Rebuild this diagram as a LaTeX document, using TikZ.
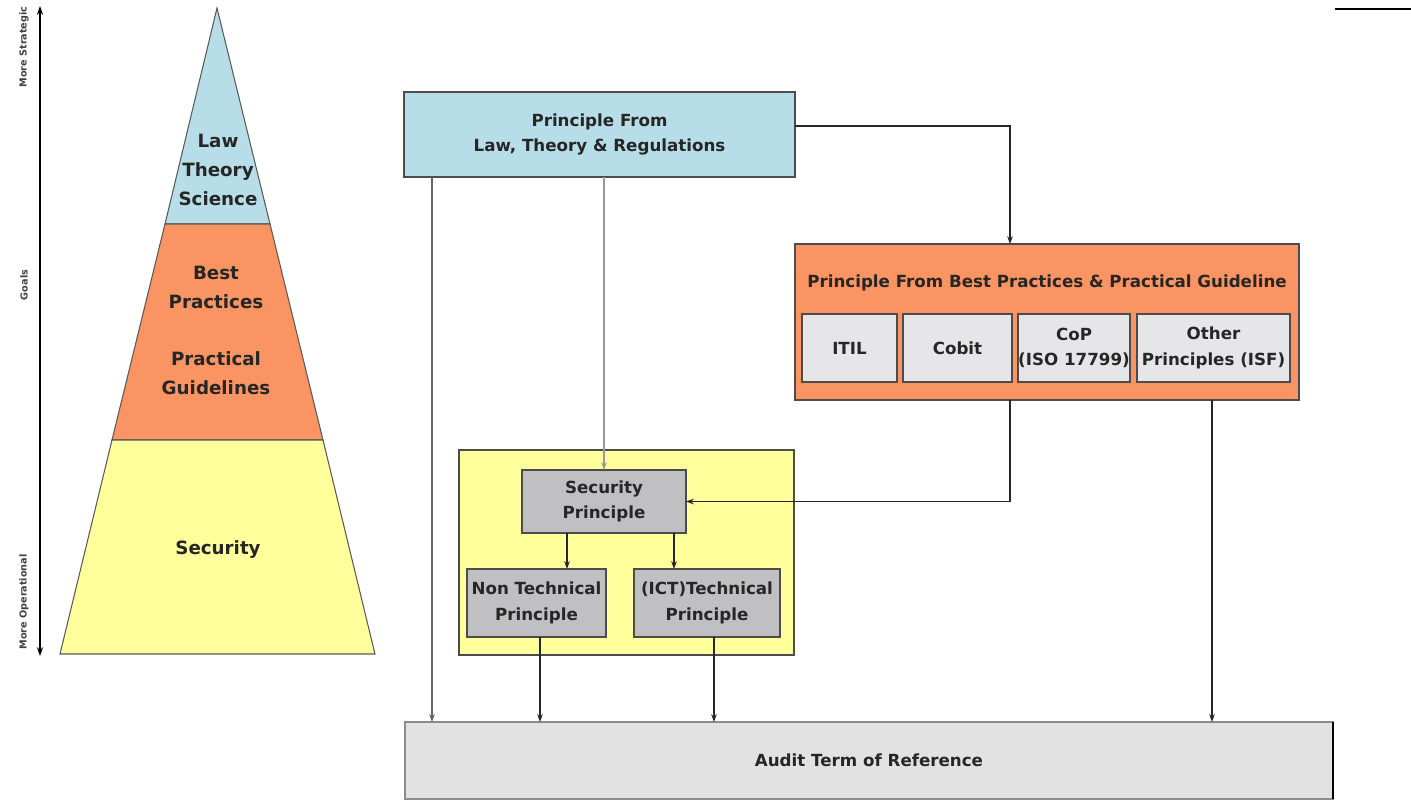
\documentclass[tikz,border=0pt]{standalone}
\usepackage{fontspec}
\setmainfont{DejaVu Sans}
\usepackage{tikz}
\usetikzlibrary{arrows.meta}

\definecolor{lawblue}{RGB}{183,222,232}
\definecolor{bestorange}{RGB}{250,148,98}
\definecolor{secyellow}{RGB}{255,255,155}
\definecolor{darkgrey}{RGB}{192,192,194}
\definecolor{palegrey}{RGB}{230,230,232}
\definecolor{auditgrey}{RGB}{226,226,226}

\begin{document}
\begin{tikzpicture}[x=0.02cm,y=-0.02cm,
	box/.style={shape=rectangle,draw=black!70,line width=0.9pt,inner sep=0pt,outer sep=0pt,align=center,
		font=\fontsize{9.5}{14.5}\selectfont\bfseries,text=black!85},
	tier/.style={align=center,font=\fontsize{10.4}{16.5}\selectfont\bfseries,text=black!85},
	axis/.style={font=\fontsize{5.5}{7}\selectfont\bfseries,text=black!75},
	link/.style={-{Stealth[length=4.5pt,width=3.2pt]},line width=0.6pt,draw=black!85}]
	
	\useasboundingbox (0,0) rectangle (1411,799);
	
	% axis on the left
	\coordinate (axtop) at (40,6);
	\coordinate (axbot) at (40,656);
	\draw[{Stealth[length=5pt,width=3.5pt]}-{Stealth[length=5pt,width=3.5pt]},line width=0.7pt] (axtop) -- (axbot);
	\node[axis,rotate=90] (strategic)   at (24,47)  {More Strategic};
	\node[axis,rotate=90] (goals)       at (24,285) {Goals};
	\node[axis,rotate=90] (operational) at (24,602) {More Operational};
	
	% pyramid
	\filldraw[fill=lawblue,draw=black!65,line width=0.6pt]    (217,8) -- (270,224) -- (165,224) -- cycle;
	\filldraw[fill=bestorange,draw=black!65,line width=0.6pt] (165,224) -- (270,224) -- (323,440) -- (112,440) -- cycle;
	\filldraw[fill=secyellow,draw=black!65,line width=0.6pt]  (112,440) -- (323,440) -- (375,654) -- (60,654) -- cycle;
	\node[tier] (lawtier)   at (218,170) {Law\\Theory\\Science};
	\node[tier] (besttier)  at (216,287) {Best\\Practices};
	\node[tier] (guidetier) at (216,373) {Practical\\Guidelines};
	\node[tier] (sectier)   at (218,550) {Security};
	
	% boxes
	\node[box,fill=lawblue,minimum width=7.82cm,minimum height=1.70cm] (law) at (599.5,134.5)
		{Principle From\\Law, Theory \& Regulations};
	\node[box,fill=bestorange,minimum width=10.08cm,minimum height=3.12cm] (best) at (1047,322) {};
	\node[align=center,font=\fontsize{9.5}{14.5}\selectfont\bfseries,text=black!85] (besttitle) at (1047,283)
		{Principle From Best Practices \& Practical Guideline};
	\node[box,fill=palegrey,minimum width=1.90cm,minimum height=1.36cm] (itil)  at (849.5,348)  {ITIL};
	\node[box,fill=palegrey,minimum width=2.18cm,minimum height=1.36cm] (cobit) at (957.5,348)  {Cobit};
	\node[box,fill=palegrey,minimum width=2.24cm,minimum height=1.36cm] (cop)   at (1074,348)   {CoP\\(ISO 17799)};
	\node[box,fill=palegrey,minimum width=3.06cm,minimum height=1.36cm] (other) at (1213.5,348) {Other\\Principles (ISF)};
	
	\node[box,fill=secyellow,minimum width=6.70cm,minimum height=4.10cm] (secarea) at (626.5,552.5) {};
	\node[box,fill=darkgrey,minimum width=3.28cm,minimum height=1.26cm] (secp)    at (604,501.5) {Security\\Principle};
	\node[box,fill=darkgrey,minimum width=2.78cm,minimum height=1.36cm] (nontech) at (536.5,603)  {Non Technical\\Principle};
	\node[box,fill=darkgrey,minimum width=2.92cm,minimum height=1.36cm] (ict)     at (707,603)    {(ICT)Technical\\Principle};
	
	\node[box,fill=auditgrey,draw=black!45,minimum width=18.56cm,minimum height=1.54cm] (audit) at (869,760.5)
		{Audit Term of Reference};
	\draw[line width=1.4pt] (audit.north east) -- (audit.south east);
	\draw[line width=1.4pt] (1335,9) -- (1411,9);
	
	% connectors
	\draw[link,draw=black!60] (law.south -| 432,0) -- (audit.north -| 432,0);
	\draw[link,draw=black!40] (law.south -| secp.north) -- (secp.north);
	\draw[link] (law.east |- 0,126) -| (best.north -| 1010,0);
	\draw[link] (best.south -| 1010,0) |- (secp.east);
	\draw[link] (best.south -| 1212,0) -- (audit.north -| 1212,0);
	\draw[link] (secp.south -| 567,0) -- (nontech.north -| 567,0);
	\draw[link] (secp.south -| 674,0) -- (ict.north -| 674,0);
	\draw[link] (nontech.south -| 540,0) -- (audit.north -| 540,0);
	\draw[link] (ict.south -| 714,0) -- (audit.north -| 714,0);
	
\end{tikzpicture}
\end{document}
